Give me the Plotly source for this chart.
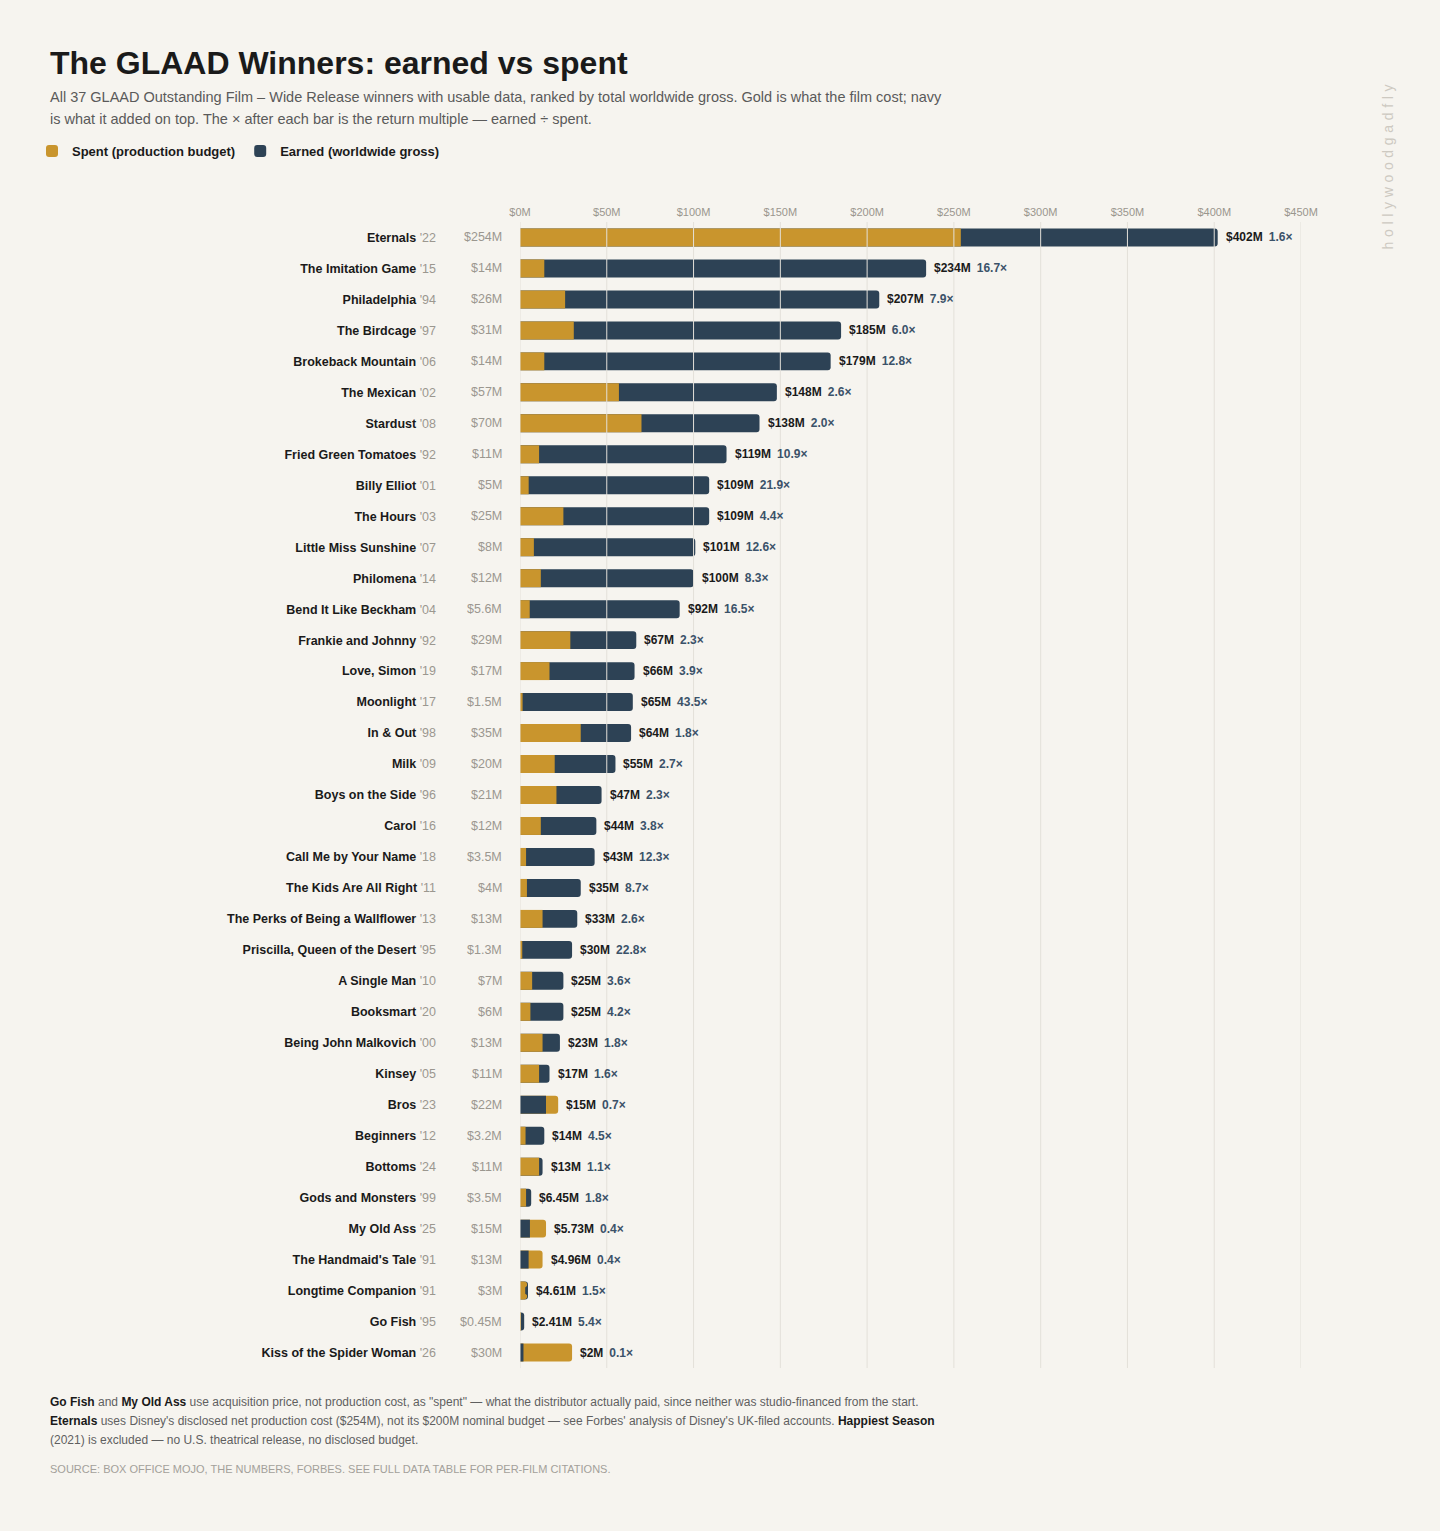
import plotly.graph_objects as go

# ---------------- data ----------------
films = ["Eternals", "The Imitation Game", "Philadelphia", "The Birdcage", "Brokeback Mountain",
         "The Mexican", "Stardust", "Fried Green Tomatoes", "Billy Elliot", "The Hours",
         "Little Miss Sunshine", "Philomena", "Bend It Like Beckham", "Frankie and Johnny",
         "Love, Simon", "Moonlight", "In & Out", "Milk", "Boys on the Side", "Carol",
         "Call Me by Your Name", "The Kids Are All Right", "The Perks of Being a Wallflower",
         "Priscilla, Queen of the Desert", "A Single Man", "Booksmart", "Being John Malkovich",
         "Kinsey", "Bros", "Beginners", "Bottoms", "Gods and Monsters", "My Old Ass",
         "The Handmaid's Tale", "Longtime Companion", "Go Fish", "Kiss of the Spider Woman"]
years = ["'22", "'15", "'94", "'97", "'06", "'02", "'08", "'92", "'01", "'03",
         "'07", "'14", "'04", "'92", "'19", "'17", "'98", "'09", "'96", "'16",
         "'18", "'11", "'13", "'95", "'10", "'20", "'00", "'05", "'23", "'12",
         "'24", "'99", "'25", "'91", "'91", "'95", "'26"]
spent = [254, 14, 26, 31, 14, 57, 70, 11, 5, 25,
         8, 12, 5.6, 29, 17, 1.5, 35, 20, 21, 12,
         3.5, 4, 13, 1.3, 7, 6, 13, 11, 22, 3.2,
         11, 3.5, 15, 13, 3, 0.45, 30]
earned = [402, 234, 207, 185, 179, 148, 138, 119, 109, 109,
          101, 100, 92, 67, 66, 65, 64, 55, 47, 44,
          43, 35, 33, 30, 25, 25, 23, 17, 15, 14,
          13, 6.45, 5.73, 4.96, 4.61, 2.41, 2]
multiple = [1.6, 16.7, 7.9, 6.0, 12.8, 2.6, 2.0, 10.9, 21.9, 4.4,
            12.6, 8.3, 16.5, 2.3, 3.9, 43.5, 1.8, 2.7, 2.3, 3.8,
            12.3, 8.7, 2.6, 22.8, 3.6, 4.2, 1.8, 1.6, 0.7, 4.5,
            1.1, 1.8, 0.4, 0.4, 1.5, 5.4, 0.1]
tick_vals = [0, 50, 100, 150, 200, 250, 300, 350, 400, 450]
tick_text = ["$%dM" % v for v in tick_vals]

# ---------------- style ----------------
W, H = 1440, 1531
L, R, T, B = 519.5, 1301, 221.5, 1368.5
PW, PH = R - L, B - T
BG = "#f6f4ef"
GOLD = "#c9952d"
NAVY = "#2d4255"
DARK = "#1a1a1a"
GREY = "#9b978f"
FONT = "Liberation Sans, Arial, sans-serif"


def px_x(x):
    return (x - L) / PW


def px_y(y):
    return (B - y) / PH


normal = [e >= s for s, e in zip(spent, earned)]

fig = go.Figure()
# navy behind gold where earned exceeds spent
fig.add_trace(go.Bar(
    y=films, x=[e if n else None for e, n in zip(earned, normal)], orientation="h",
    marker=dict(color=NAVY, line=dict(width=0)), name="Earned (worldwide gross)",
    legendrank=2, hoverinfo="skip"))
fig.add_trace(go.Bar(
    y=films, x=spent, orientation="h",
    marker=dict(color=GOLD, line=dict(width=0)), name="Spent (production budget)",
    legendrank=1, hoverinfo="skip"))
# navy in front where the film lost money
fig.add_trace(go.Bar(
    y=films, x=[e if not n else None for e, n in zip(earned, normal)], orientation="h",
    marker=dict(color=NAVY, line=dict(width=0)), showlegend=False, hoverinfo="skip"))

ticktext_y = ["<b>%s</b> <span style='color:#9b978f'>%s</span>" % (f, y) for f, y in zip(films, years)]

annotations = []
# spent column
for f, s in zip(films, spent):
    annotations.append(dict(
        x=px_x(503), xref="paper", y=f, yref="y", xanchor="right", yanchor="middle",
        text="$%sM" % format(s, "g"), showarrow=False,
        font=dict(family=FONT, size=12.5, color=GREY)))
# value + multiple after bar
for f, s, e, m in zip(films, spent, earned, multiple):
    annotations.append(dict(
        x=max(s, e), xref="x", y=f, yref="y", xanchor="left", yanchor="middle", xshift=6,
        text="<b>$%sM</b>\u2002<span style='color:#3b5269;font-weight:bold'>%.1f×</span>" % (format(e, "g"), m),
        showarrow=False, font=dict(family=FONT, size=12, color=DARK)))

# title, subtitle
annotations.append(dict(x=px_x(47), y=px_y(62), xref="paper", yref="paper", xanchor="left",
                        yanchor="middle", showarrow=False,
                        text="<b>The GLAAD Winners: earned vs spent</b>",
                        font=dict(family=FONT, size=32, color=DARK)))
sub = ["All 37 GLAAD Outstanding Film – Wide Release winners with usable data, ranked by total worldwide gross. Gold is what the film cost; navy",
       "is what it added on top. The × after each bar is the return multiple — earned ÷ spent."]
for i, line in enumerate(sub):
    annotations.append(dict(x=px_x(47), y=px_y(96 + 22 * i), xref="paper", yref="paper", xanchor="left",
                            yanchor="middle", showarrow=False, text=line,
                            font=dict(family=FONT, size=14.5, color="#5a5a5a")))

# footnotes
b = lambda t: "<span style='color:#1a1a1a'><b>%s</b></span>" % t
notes = [b("Go Fish") + " and " + b("My Old Ass") + " use acquisition price, not production cost, as \"spent\" — what the distributor actually paid, since neither was studio-financed from the start.",
         b("Eternals") + " uses Disney's disclosed net production cost ($254M), not its $200M nominal budget — see Forbes' analysis of Disney's UK-filed accounts. " + b("Happiest Season"),
         "(2021) is excluded — no U.S. theatrical release, no disclosed budget."]
for i, line in enumerate(notes):
    annotations.append(dict(x=px_x(47), y=px_y(1403 + 19 * i), xref="paper", yref="paper", xanchor="left",
                            yanchor="middle", showarrow=False, text=line,
                            font=dict(family=FONT, size=12, color="#5f5f5f")))
annotations.append(dict(x=px_x(47), y=px_y(1470), xref="paper", yref="paper", xanchor="left",
                        yanchor="middle", showarrow=False,
                        text="SOURCE: BOX OFFICE MOJO, THE NUMBERS, FORBES. SEE FULL DATA TABLE FOR PER-FILM CITATIONS.",
                        font=dict(family=FONT, size=11, color="#a3a09a")))
# watermark
annotations.append(dict(x=px_x(1388), y=px_y(166), xref="paper", yref="paper", xanchor="center",
                        yanchor="middle", showarrow=False, textangle=-90,
                        text="\u2004".join("hollywoodgadfly"),
                        font=dict(family=FONT, size=14, color="#cdc9c1")))

shapes = [dict(type="line", xref="x", yref="paper", x0=v, x1=v, y0=0, y1=1, layer="above",
               line=dict(color="#e3e0d9", width=1)) for v in tick_vals]

fig.update_layout(
    width=W, height=H, paper_bgcolor=BG, plot_bgcolor=BG,
    margin=dict(l=L, r=W - R, t=T, b=H - B, pad=0),
    barmode="overlay", bargap=0.42, barcornerradius=3,
    font=dict(family=FONT, color=DARK),
    showlegend=True,
    legend=dict(orientation="h", xref="container", yref="container", x=32 / W, y=1 - 151 / H,
                xanchor="left", yanchor="middle", bgcolor="rgba(0,0,0,0)",
                font=dict(family=FONT, size=13, color=DARK, weight="bold"),
                traceorder="normal", itemclick=False),
    xaxis=dict(side="top", range=[0, 450], tickvals=tick_vals, ticktext=tick_text,
               showgrid=False, zeroline=False, showline=False, ticks="", ticklabelstandoff=3,
               tickfont=dict(family=FONT, size=11, color="#9a968e"), fixedrange=True),
    yaxis=dict(categoryorder="array", categoryarray=films, autorange="reversed",
               tickvals=films, ticktext=ticktext_y, showgrid=False, zeroline=False,
               showline=False, ticks="", ticklabelstandoff=83,
               tickfont=dict(family=FONT, size=12.5, color=DARK), fixedrange=True),
    annotations=annotations, shapes=shapes,
)

fig.write_html("out.html", config={"displayModeBar": False},
               post_script="document.body.style.margin='0';document.body.style.background='%s';" % BG)
